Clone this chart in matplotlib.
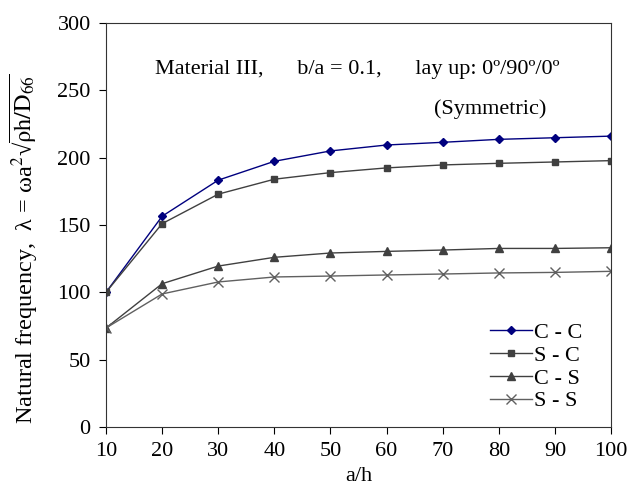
import numpy as np
import matplotlib as mpl
mpl.use('Agg')
import matplotlib.pyplot as plt

# data
a_h = [10, 20, 30, 40, 50, 60, 70, 80, 90, 100]
cc = [100, 156.5, 183.3, 197.3, 205.0, 209.4, 211.4, 213.6, 214.8, 216.0]
sc = [100, 151.0, 172.9, 184.0, 188.9, 192.4, 194.6, 195.8, 196.8, 197.8]
cs = [73.5, 106.4, 119.5, 126.0, 129.2, 130.4, 131.4, 132.6, 132.6, 133.1]
ss = [73.5, 98.8, 107.7, 111.4, 112.1, 112.9, 113.6, 114.4, 114.8, 115.6]

mpl.rcParams['font.family'] = 'Liberation Serif'
mpl.rcParams['mathtext.fontset'] = 'stix'
mpl.rcParams['font.size'] = 16

fig = plt.figure(figsize=(6.3, 5.01), dpi=100)
ax = fig.add_axes([106/630, 74/501, 505/630, 404/501])

ax.plot(a_h, cc, color='#00007f', marker='D', ms=4.5, lw=1, label='C - C')
ax.plot(a_h, sc, color='#404040', marker='s', ms=5, lw=1, label='S - C')
ax.plot(a_h, cs, color='#404040', marker='^', ms=6, lw=1, label='C - S')
ax.plot(a_h, ss, color='#606060', marker='x', ms=7, mew=1, lw=1, label='S - S')

for s in ax.spines.values():
    s.set_color('#333333')

ax.set_xlim(10, 100)
ax.set_ylim(0, 300)
ax.set_xticks(a_h)
ax.set_yticks(np.arange(0, 301, 50))
ax.tick_params(direction='out', length=5, labelsize=16, pad=6)
ax.set_xlabel('a/h', fontsize=16, labelpad=4)
ax.set_ylabel('Natural frequency,  \u03bb = \u03c9a$^2$\u221a$\\overline{\\mathrm{\\rho h/D_{66}}}$',
              fontsize=17.5)
ax.yaxis.set_label_coords(-0.13, 0.44)

ax.text(0.497, 0.884, 'Material III,      b/a = 0.1,      lay up: 0\u00ba/90\u00ba/0\u00ba',
        transform=ax.transAxes, ha='center', va='center', fontsize=16)
ax.text(0.76, 0.787, '(Symmetric)', transform=ax.transAxes, ha='center',
        va='center', fontsize=16)

ax.legend(loc='lower right', bbox_to_anchor=(0.975, 0.0), frameon=False,
          fontsize=16, handlelength=1.9, labelspacing=0.1, handletextpad=0.1,
          borderpad=0.2)

plt.savefig('out.png', dpi=100)
